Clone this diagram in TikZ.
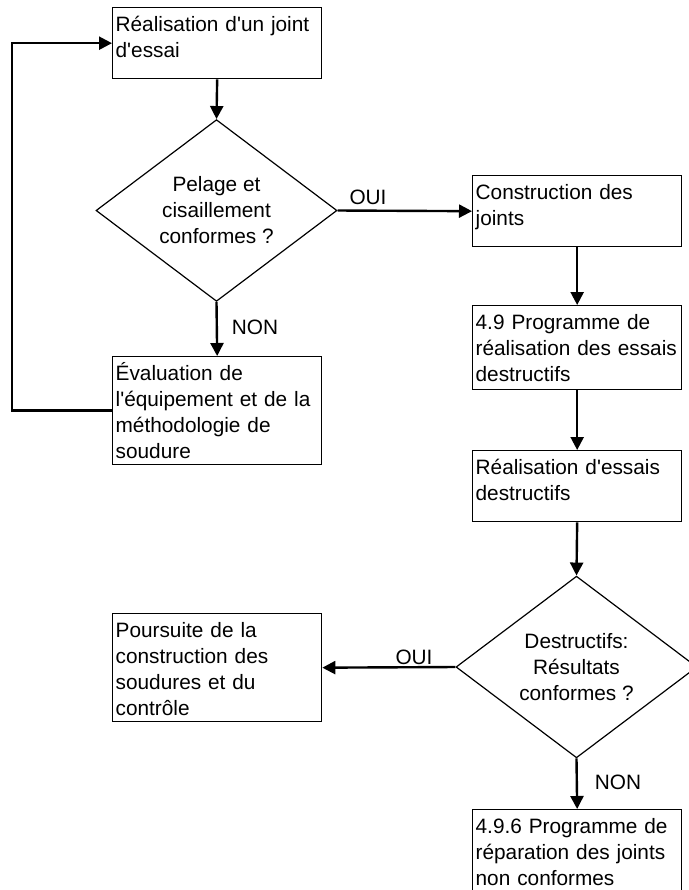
\documentclass[tikz,border=0pt]{standalone}
\usepackage{fontspec}
\setmainfont{Liberation Sans}
\usetikzlibrary{shapes.geometric,arrows.meta}

\begin{document}
\begin{tikzpicture}[x=0.75pt, y=-0.75pt,
  every node/.style={font=\fontsize{15.6pt}{19.5pt}\selectfont},
  box/.style={draw, line width=1pt, rectangle, anchor=north west, align=left,
    text width=152.25pt, inner xsep=2.25pt, inner ysep=0pt, text height=18pt},
  test/.style={draw, line width=0.9pt, diamond, align=center, inner sep=0pt,
    minimum width=180.75pt, minimum height=135pt},
  lbl/.style={inner sep=0pt},
  flow/.style={line width=1.8pt, -{Triangle[length=9.75pt,width=9.75pt]}}]
  \useasboundingbox (0,0) rectangle (689,890);
  \node[box, text depth=35.25pt] (essai) at (112,7) {R\'ealisation d\textquotesingle un joint\\d\textquotesingle essai};
  \node[test] (pelage) at (216.5,210.5) {Pelage et\\cisaillement\\conformes ?};
  \node[box, text depth=63pt] (evaluation) at (112,356) {\'Evaluation de\\l\textquotesingle\'equipement et de la\\m\'ethodologie de\\soudure};
  \node[box, text depth=35.25pt] (construction) at (472,175) {Construction des\\joints};
  \node[box, text depth=45pt] (programme) at (472,305) {4.9 Programme de\\r\'ealisation des essais\\destructifs};
  \node[box, text depth=35.25pt] (essais) at (472,450) {R\'ealisation d\textquotesingle essais\\destructifs};
  \node[test] (resultats) at (576.5,667) {Destructifs:\\R\'esultats\\conformes ?};
  \node[box, text depth=63pt] (poursuite) at (112,613) {Poursuite de la\\construction des\\soudures et du\\contr\^ole};
  \node[box, text depth=45pt] (reparation) at (472,809) {4.9.6 Programme de\\r\'eparation des joints\\non conformes};
  \coordinate (retour) at (12,0);
  \draw[flow] (essai.south) -- (pelage.north);
  \draw[flow] (pelage.south) -- (evaluation.north);
  \draw[flow] (evaluation.west) -- (retour |- evaluation.west) |- (essai.west);
  \draw[flow] (pelage.east) -- (construction.west);
  \draw[flow] (construction.south) -- (programme.north);
  \draw[flow] (programme.south) -- (essais.north);
  \draw[flow] (essais.south) -- (resultats.north);
  \draw[flow] (resultats.west) -- (poursuite.east);
  \draw[flow] (resultats.south) -- (reparation.north);
  \node[lbl] (oui1) at (368,197) {OUI};
  \node[lbl] (non1) at (255,327) {NON};
  \node[lbl] (oui2) at (414,657) {OUI};
  \node[lbl] (non2) at (618,782) {NON};
\end{tikzpicture}
\end{document}
